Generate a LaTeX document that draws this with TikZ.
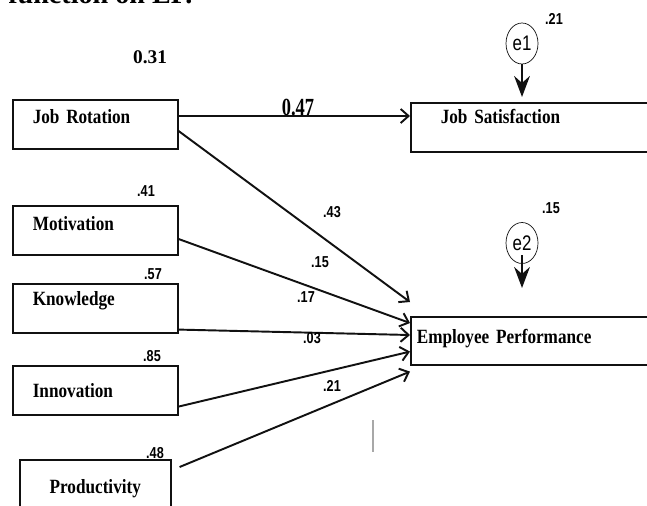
\documentclass[tikz,border=0pt]{standalone}
\usepackage{fontspec}
\usepackage{xcolor}
\setmainfont{Liberation Serif}
\newfontfamily\boxserif[FakeStretch=0.85]{Liberation Serif}
\newfontfamily\tallserif[FakeStretch=0.75]{Liberation Serif}
\newfontfamily\coefsans[FakeStretch=0.8]{Liberation Sans}
\usetikzlibrary{arrows.meta,positioning,shapes.geometric}
\definecolor{ink}{HTML}{111111}
\definecolor{stray}{HTML}{A8A8A8}
\tikzset{
  varbox/.style={
    rectangle, draw=ink, line width=0.9pt, anchor=north west,
    font=\boxserif\fontsize{11.5}{13}\selectfont\bfseries, align=left,
    inner ysep=0pt, inner xsep=0.4cm, text width=2.5cm,
    text height=0.48cm, text depth=0.5cm
  },
  errnode/.style={
    ellipse, draw=ink, thin, minimum width=0.64cm, minimum height=0.82cm,
    inner sep=0pt, font=\coefsans\fontsize{12}{14}\selectfont
  },
  patharrow/.style={
    -{Straight Barb[length=4.5pt, width=8pt]}, line width=1.1pt, color=ink
  },
  errarrow/.style={
    -{Stealth[length=12pt, width=9pt, inset=4pt]}, line width=0.9pt, color=ink
  },
  coef/.style={
    font=\coefsans\bfseries\fontsize{9}{10}\selectfont, inner sep=0pt
  },
  bigcoef/.style={
    font=\fontsize{11}{13}\selectfont\bfseries, inner sep=0pt
  },
}

\begin{document}
\begin{tikzpicture}[node distance=0.8cm and 0.8cm]
  \useasboundingbox (0,0) rectangle (12.94,-10.10);
  \clip (0,0) rectangle (12.94,-10.10);
  \node[font=\fontsize{16}{18}\selectfont\bfseries, anchor=base west, inner sep=0pt] (caption) at (0.16,-0.06) {function on EP.};
  \node[varbox] (jr) at (0.24,-1.98) {Job Rotation};
  \node[varbox, text height=0.50cm, text depth=0.48cm] (mot) at (0.24,-4.10) {Motivation};
  \node[varbox, text height=0.44cm, text depth=0.54cm] (kno) at (0.24,-5.66) {Knowledge};
  \node[varbox, text height=0.64cm, text depth=0.34cm] (inn) at (0.24,-7.30) {Innovation};
  \node[varbox, align=center, inner xsep=0.2cm, text width=2.62cm, text height=0.68cm, text depth=0.30cm] (pro) at (0.38,-9.18) {Productivity};
  \node[varbox, inner xsep=0.6cm, text width=3.8cm, text height=0.42cm, text depth=0.56cm] (js) at (8.20,-2.04) {Job Satisfaction};
  \node[varbox, inner xsep=0.12cm, text width=4.76cm, text height=0.54cm, text depth=0.42cm] (ep) at (8.20,-6.32) {Employee Performance};
  \node[errnode] (e1) at (10.44,-0.87) {e1};
  \node[errnode] (e2) at (10.44,-4.86) {e2};
  \coordinate (e2tip) at (10.44,-5.76);
  \draw[errarrow] (e1.south) -- ([yshift=0.1cm]e1.south |- js.north);
  \draw[errarrow] ([yshift=-0.24cm]e2.center) -- (e2tip);
  \draw[patharrow] ([yshift=-0.34cm]jr.north east) -- ([yshift=-0.28cm]js.north west);
  \draw[patharrow] ([yshift=-0.64cm]jr.north east) -- ([yshift=0.28cm]ep.north west);
  \draw[patharrow] ([yshift=-0.68cm]mot.north east) -- ([yshift=-0.14cm]ep.north west);
  \draw[patharrow] ([yshift=0.08cm]kno.south east) -- ([yshift=-0.38cm]ep.north west);
  \draw[patharrow] ([yshift=0.18cm]inn.south east) -- ([yshift=0.28cm]ep.south west);
  \draw[patharrow] ([xshift=0.16cm, yshift=-0.16cm]pro.north east) -- ([yshift=-0.12cm]ep.south west);
  \node[bigcoef] (c31) at (3.00,-1.14) {0.31};
  \node[bigcoef, anchor=base, font=\tallserif\fontsize{14}{16}\selectfont\bfseries] (c47) at (5.96,-2.30) {0.47};
  \node[coef] (c43) at (6.64,-4.24) {.43};
  \node[coef] (c15) at (6.40,-5.24) {.15};
  \node[coef] (c17) at (6.12,-5.94) {.17};
  \node[coef] (c03) at (6.24,-6.76) {.03};
  \node[coef] (c21) at (6.64,-7.72) {.21};
  \node[coef] (r41) at (2.92,-3.82) {.41};
  \node[coef] (r57) at (3.06,-5.48) {.57};
  \node[coef] (r85) at (3.04,-7.12) {.85};
  \node[coef] (r48) at (3.10,-9.06) {.48};
  \node[coef] (r21) at (11.08,-0.38) {.21};
  \node[coef] (r15) at (11.02,-4.16) {.15};
  \draw[stray, line width=0.8pt] (7.46,-8.40) -- (7.46,-9.04);
\end{tikzpicture}
\end{document}
